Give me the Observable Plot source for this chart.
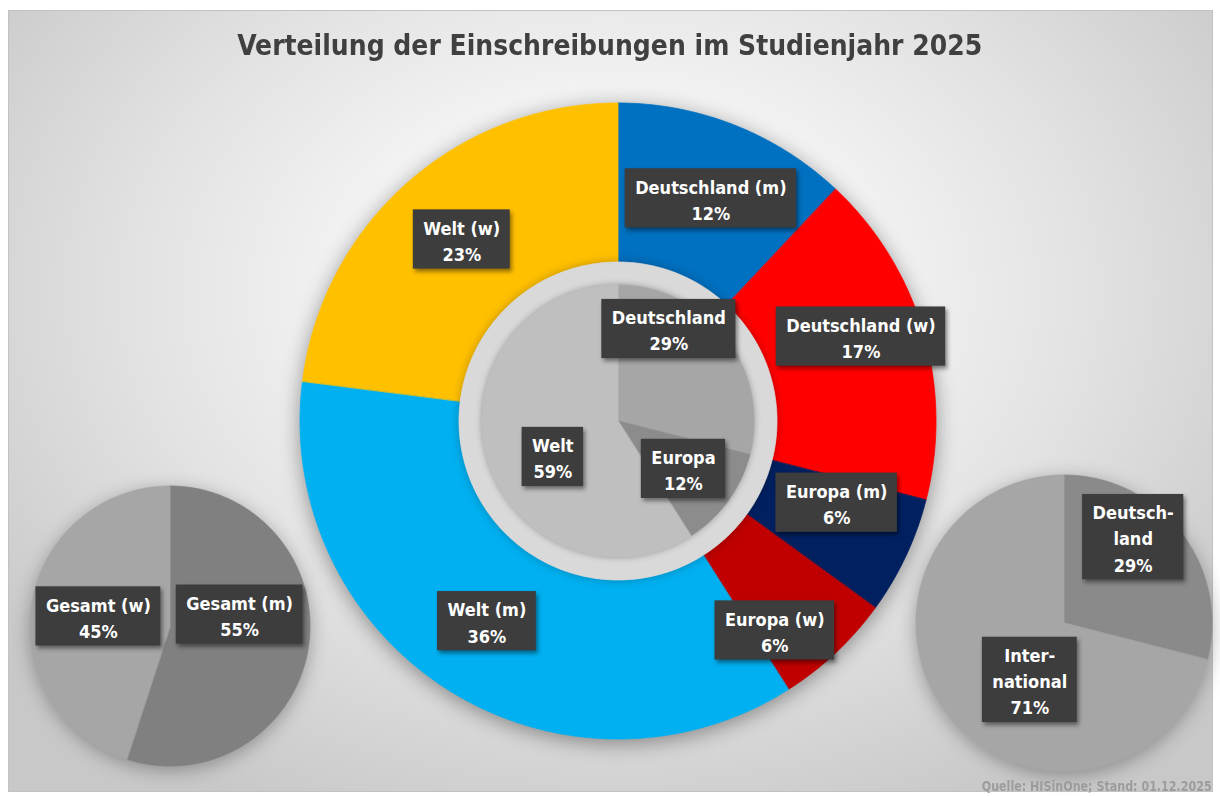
<!DOCTYPE html>
<html>
<head>
<meta charset="utf-8">
<script src="https://cdn.jsdelivr.net/npm/d3@7"></script>
<script src="https://cdn.jsdelivr.net/npm/@observablehq/plot@0.6"></script>
<style>
  html, body { margin: 0; padding: 0; background: #fff; }
  #wrap { position: relative; width: 1220px; height: 796px; overflow: hidden; background: #fff; }
  #frame { position: absolute; left: 8px; top: 10px; width: 1205px; height: 782px; box-sizing: border-box;
    border: 1px solid #c2c2c2;
    background: radial-gradient(ellipse 64% 74% at 50% 36%, #ffffff 0%, #f6f6f6 28%, #e2e2e2 62%, #d2d2d2 85%, #c8c8c8 100%); }
  #chart { position: absolute; left: 0; top: 0; }
  .ttl { position: absolute; left: 0; width: 1220px; text-align: center; white-space: nowrap; }
  .ttl span { display: inline-block; transform-origin: 50% 50%; }
  #title { top: 31px; font: bold 29px/1 "DejaVu Sans Condensed", "DejaVu Sans", sans-serif; color: #404040; }
  #source { position: absolute; right: 8px; top: 779px; font: bold 14px/1 "DejaVu Sans Condensed", "DejaVu Sans", sans-serif; color: #9c9c9c; white-space: nowrap; transform-origin: 100% 50%; }
</style>
</head>
<body>
<div id="wrap">
  <div id="frame"></div>
  <div id="chart"></div>
  <div id="title" class="ttl"><span>Verteilung der Einschreibungen im Studienjahr 2025</span></div>
  <div id="source">Quelle: HISinOne; Stand: 01.12.2025</div>
</div>
<script>
// ---------- data ----------
const donutCategories = ["Deutschland (m)", "Deutschland (w)", "Europa (m)", "Europa (w)", "Welt (m)", "Welt (w)"];
const donutValues = [12, 17, 6, 6, 36, 23];
const innerCategories = ["Deutschland", "Europa", "Welt"];
const innerValues = [29, 12, 59];
const genderCategories = ["Gesamt (m)", "Gesamt (w)"];
const genderValues = [55, 45];
const originCategories = ["Deutsch-\nland", "Inter-\nnational"];
const originValues = [29, 71];

// ---------- palette ----------
const donutColors = ["#0070c0", "#ff0000", "#002060", "#c00000", "#00b0f0", "#ffc000"];
const innerColors = ["#a6a6a6", "#8c8c8c", "#bfbfbf"];
const genderColors = ["#808080", "#a6a6a6"];
const originColors = ["#8a8a8a", "#a6a6a6"];

// ---------- layout ----------
// lr = label radius; nudge = "best fit" label offsets (px) relative to the slice centroid
const geo = {
  donut:  {cx: 618,  cy: 421, r0: 159, r1: 318, lr: 240,
           nudge: [[4, 0], [12, -18], [1, -21], [-8, 34], [-3, -3], [2, -2]]},
  ring:   {cx: 618,  cy: 421, r0: 0,   r1: 159, lr: 0},
  inner:  {cx: 618,  cy: 421, r0: 0,   r1: 136, lr: 84,
           nudge: [[-16, -41], [-3, -2], [15, 12]]},
  gender: {cx: 170,  cy: 626, r0: 0,   r1: 140, lr: 71,
           nudge: [[-1, -23], [-2, 1]]},
  origin: {cx: 1064, cy: 623, r0: 0,   r1: 148, lr: 92,
           nudge: [[-4, -30], [38, 0]]}
};
const FONT = "'DejaVu Sans Condensed', 'DejaVu Sans', sans-serif";
const FS = 18, LH = 1.45;

const ctx = document.createElement("canvas").getContext("2d");
ctx.font = `bold ${FS}px ${FONT}`;

// each slice becomes an area between its outer arc (x1,y1) and inner arc / centre (x2,y2)
function slices(name, cats, vals, cols, g) {
  const arcs = d3.pie().sort(null).value(d => d)(vals);
  const pts = [], labels = [];
  arcs.forEach((a, i) => {
    const id = name + i;
    const n = Math.max(2, Math.ceil((a.endAngle - a.startAngle) / (Math.PI / 360)));
    for (let k = 0; k <= n; k++) {
      const t = a.startAngle + (a.endAngle - a.startAngle) * k / n;
      const s = Math.sin(t), c = Math.cos(t);
      pts.push({id, color: cols[i],
        xo: g.cx + g.r1 * s, yo: g.cy - g.r1 * c,
        xi: g.cx + g.r0 * s, yi: g.cy - g.r0 * c});
    }
    if (g.lr) {
      const m = (a.startAngle + a.endAngle) / 2;
      const text = `${cats[i]}\n${vals[i]}%`;
      const lines = text.split("\n");
      const w = d3.max(lines, l => ctx.measureText(l).width) + 20;
      const h = lines.length * FS * LH + 7;
      const [ndx, ndy] = (g.nudge && g.nudge[i]) || [0, 0];
      const x = g.cx + g.lr * Math.sin(m) + ndx, y = g.cy - g.lr * Math.cos(m) + ndy;
      labels.push({text, x, y, x1: x - w / 2, x2: x + w / 2, y1: y - h / 2, y2: y + h / 2});
    }
  });
  return {pts, labels};
}

const donut = slices("d", donutCategories, donutValues, donutColors, geo.donut);
const ring = slices("r", ["ring"], [1], ["#d9d9d9"], geo.ring);
const inner = slices("i", innerCategories, innerValues, innerColors, geo.inner);
const gender = slices("g", genderCategories, genderValues, genderColors, geo.gender);
const origin = slices("o", originCategories, originValues, originColors, geo.origin);
const allLabels = [...donut.labels, ...inner.labels, ...gender.labels, ...origin.labels];

const pieMark = s => Plot.area(s.pts, {
  x1: "xo", y1: "yo", x2: "xi", y2: "yi", z: "id",
  fill: "color", stroke: "color", strokeWidth: 0.8
});

const chart = Plot.plot({
  width: 1220, height: 796, margin: 0,
  x: {domain: [0, 1220], axis: null},
  y: {domain: [0, 796], reverse: true, axis: null},
  color: {type: "identity"},
  style: {background: "transparent", overflow: "visible"},
  marks: [
    pieMark(donut),
    pieMark(ring),
    pieMark(inner),
    pieMark(gender),
    pieMark(origin),
    Plot.rect(allLabels, {x1: "x1", x2: "x2", y1: "y1", y2: "y2", fill: "#3d3d3d"}),
    Plot.text(allLabels, {x: "x", y: "y", text: "text", fill: "white", fontSize: FS, fontWeight: "bold", fontFamily: FONT, lineHeight: LH})
  ]
});
document.getElementById("chart").appendChild(chart);

// soft shadows, applied per mark group (in mark order)
const filters = [
  "drop-shadow(0px 4px 10px rgba(0,0,0,0.38))",
  "drop-shadow(0px 0px 4px rgba(0,0,0,0.25))",
  "drop-shadow(0px 0px 3px rgba(0,0,0,0.3))",
  "drop-shadow(0px 4px 9px rgba(0,0,0,0.3))",
  "drop-shadow(0px 4px 9px rgba(0,0,0,0.3))",
  "drop-shadow(2px 3px 2px rgba(0,0,0,0.45))"
];
const groups = chart.querySelectorAll(":scope > g");
filters.forEach((f, i) => { if (groups[i]) groups[i].style.filter = f; });

function fit(el, target) {
  const w = el.getBoundingClientRect().width;
  el.style.transform = `scaleX(${target / w})`;
}
fit(document.querySelector("#title span"), 745);
fit(document.getElementById("source"), 230);
</script>
</body>
</html>
